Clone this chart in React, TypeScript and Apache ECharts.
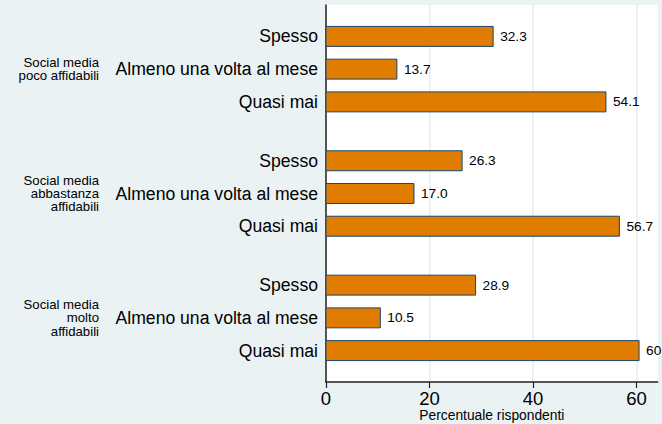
import React, { useEffect, useRef } from "react";
import * as echarts from "echarts";

const groupLabels = [
  ["Social media", "poco affidabili"],
  ["Social media", "abbastanza", "affidabili"],
  ["Social media", "molto", "affidabili"],
];
const itemLabels = ["Spesso", "Almeno una volta al mese", "Quasi mai"];
const groupValues = [
  [32.3, 13.7, 54.1],
  [26.3, 17.0, 56.7],
  [28.9, 10.5, 60.5],
];
const xTicks = [0, 20, 40, 60];

const FONT = '"Liberation Sans", Arial, Helvetica, sans-serif';
const GROUP_STEP = 3.8;
const LINE_H = 13.4;

export default function App() {
  const ref = useRef<HTMLDivElement>(null);
  useEffect(() => {
    document.body.style.margin = "0";
    const chart = echarts.init(ref.current!, null, { renderer: "svg" });

    const positions: number[] = [];
    const posLabels: string[] = [];
    const rows: number[][] = [];
    const groupRows: number[][] = [];
    groupValues.forEach((vals, g) => {
      groupRows.push([0, g * GROUP_STEP + 1]);
      vals.forEach((v, k) => {
        const p = g * GROUP_STEP + k;
        positions.push(p);
        posLabels.push(itemLabels[k]);
        rows.push([v, p]);
      });
    });
    const nearest = (arr: number[], v: number) => {
      let best = 0;
      arr.forEach((a, i) => {
        if (Math.abs(a - v) < Math.abs(arr[best] - v)) best = i;
      });
      return best;
    };

    chart.setOption({
      animation: false,
      backgroundColor: "#eaf2f3",
      textStyle: { fontFamily: FONT },
      grid: {
        left: 326,
        top: 5,
        right: 4.3,
        bottom: 42,
        show: true,
        backgroundColor: "#ffffff",
        borderWidth: 0,
        containLabel: false,
        outerBoundsMode: "none",
      },
      xAxis: {
        type: "value",
        min: 0,
        max: 64.1,
        interval: 20,
        axisLine: { show: true, onZero: false, lineStyle: { color: "#222", width: 1.5 } },
        axisTick: { show: true, length: 6, customValues: xTicks, lineStyle: { color: "#222", width: 1.2 } },
        axisLabel: {
          customValues: xTicks,
          fontSize: 18.5,
          color: "#000",
          margin: 7,
          fontFamily: FONT,
        },
        splitLine: { show: true, lineStyle: { color: "#eaf2f3", width: 2 } },
        name: "Percentuale rispondenti",
        nameLocation: "middle",
        nameGap: 26,
        nameMoveOverlap: false,
        nameTextStyle: { fontSize: 13.8, color: "#000", fontFamily: FONT },
      },
      yAxis: {
        type: "value",
        inverse: true,
        min: -0.96,
        max: 10.56,
        position: "left",
        axisLine: { show: true, onZero: false, lineStyle: { color: "#222", width: 1.5 } },
        axisTick: { show: false },
        splitLine: { show: false },
        axisLabel: {
          customValues: positions,
          formatter: (v: number) => posLabels[nearest(positions, v)],
          fontSize: 17.6,
          color: "#000",
          margin: 8,
          fontFamily: FONT,
        },
      },
      series: [
        {
          type: "custom",
          coordinateSystem: "cartesian2d",
          encode: { x: 0, y: 1 },
          data: rows,
          renderItem: (params: any, api: any) => {
            const v = api.value(0);
            const p = api.value(1);
            const s = api.coord([0, p]);
            const e = api.coord([v, p]);
            const h = api.size([0, 0.61])[1];
            return {
              type: "group",
              children: [
                {
                  type: "rect",
                  shape: { x: s[0], y: s[1] - h / 2, width: e[0] - s[0], height: h },
                  style: { fill: "#e07c00", stroke: "#1a476f", lineWidth: 1 },
                },
                {
                  type: "text",
                  x: e[0] + 7,
                  y: e[1],
                  style: {
                    text: v.toFixed(1),
                    fontSize: 13.7,
                    fontFamily: FONT,
                    fill: "#000",
                    align: "left",
                    verticalAlign: "middle",
                  },
                },
              ],
            };
          },
        },
        {
          type: "custom",
          coordinateSystem: "cartesian2d",
          encode: { x: 0, y: 1 },
          data: groupRows,
          clip: false,
          renderItem: (params: any, api: any) => {
            const c = api.coord([api.value(0), api.value(1)]);
            const lines = groupLabels[params.dataIndex];
            return {
              type: "group",
              children: lines.map((l, i) => ({
                type: "text",
                x: c[0] - 227,
                y: c[1] + (i - (lines.length - 1) / 2) * LINE_H,
                style: {
                  text: l,
                  fontSize: 13.2,
                  fontFamily: FONT,
                  fill: "#000",
                  align: "right",
                  verticalAlign: "middle",
                },
              })),
            };
          },
        },
      ],
    });
    return () => chart.dispose();
  }, []);
  return (
    <div
      ref={ref}
      style={{ position: "absolute", left: 0, top: 0, width: 662, height: 424 }}
    />
  );
}
